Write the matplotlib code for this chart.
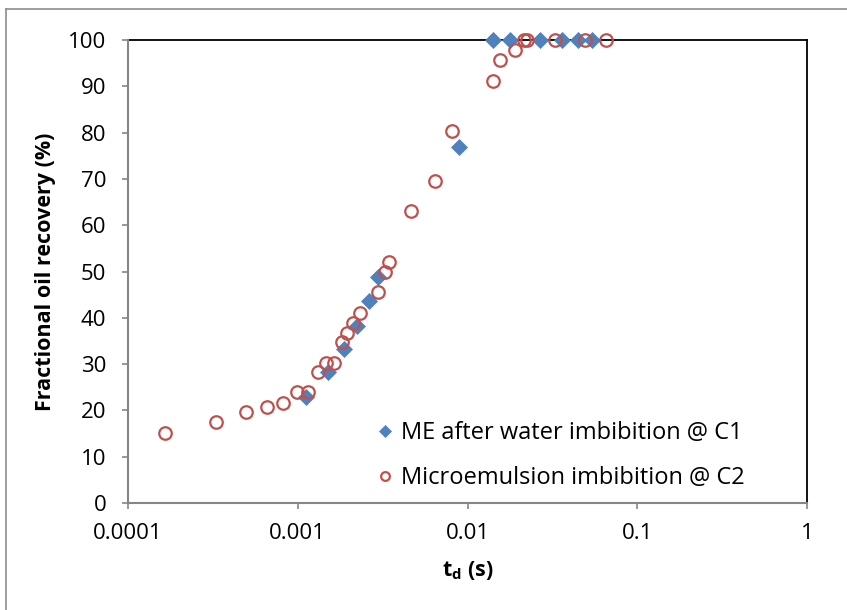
import matplotlib
matplotlib.use("Agg")
import matplotlib.pyplot as plt
from matplotlib.lines import Line2D

plt.rcParams['font.family'] = ['Open Sans', 'DejaVu Sans']
plt.rcParams['mathtext.fontset'] = 'custom'
plt.rcParams['mathtext.bf'] = 'Open Sans:bold'
plt.rcParams['mathtext.rm'] = 'Open Sans'

# ME after water imbibition @ C1
me_td = [1.12e-3, 1.51e-3, 1.87e-3, 2.23e-3, 2.63e-3, 2.97e-3, 8.91e-3,
         1.41e-2, 1.78e-2, 2.67e-2, 3.60e-2, 4.48e-2, 5.41e-2]
me_rec = [22.9, 28.3, 33.3, 38.2, 43.6, 48.8, 76.9,
          100, 100, 100, 100, 100, 100]

# Microemulsion imbibition @ C2
mi_td = [1.65e-4, 3.30e-4, 4.96e-4, 6.59e-4, 8.18e-4, 9.9e-4, 1.15e-3,
         1.32e-3, 1.47e-3, 1.64e-3, 1.82e-3, 1.95e-3, 2.11e-3, 2.33e-3,
         2.97e-3, 3.27e-3, 3.45e-3, 4.65e-3, 6.44e-3, 8.11e-3, 1.41e-2,
         1.55e-2, 1.90e-2, 2.15e-2, 2.25e-2, 3.27e-2, 4.92e-2, 6.55e-2]
mi_rec = [15.2, 17.4, 19.6, 20.8, 21.7, 23.9, 23.9,
          28.3, 30.3, 30.3, 34.7, 36.8, 38.9, 41.1,
          45.6, 49.9, 52.1, 63.0, 69.5, 80.3, 91.2,
          95.6, 97.8, 100, 100, 100, 100, 100]

x_ticks = [0.0001, 0.001, 0.01, 0.1, 1]
x_tick_labels = ['0.0001', '0.001', '0.01', '0.1', '1']
y_ticks = list(range(0, 101, 10))

blue = '#4F81BD'
red = '#C0504D'
axis_gray = '#868686'

fig = plt.figure(figsize=(8.47, 6.10), dpi=100)
ax = fig.add_axes([128 / 847, 1 - 503 / 610, (807 - 128) / 847, (503 - 40) / 610])

ax.plot(me_td, me_rec, linestyle='none', marker='D', markersize=8.5,
        color=blue, markeredgecolor=blue, markeredgewidth=0.5,
        label='ME after water imbibition @ C1', zorder=3, clip_on=False)
ax.plot(mi_td, mi_rec, linestyle='none', marker='o', markersize=9,
        markerfacecolor='none', markeredgecolor=red, markeredgewidth=1.6,
        label='Microemulsion imbibition @ C2', zorder=4, clip_on=False)

ax.set_xscale('log')
ax.set_xlim(0.0001, 1)
ax.set_ylim(0, 100)
ax.set_xticks(x_ticks)
ax.set_xticklabels(x_tick_labels)
ax.xaxis.set_minor_locator(matplotlib.ticker.NullLocator())
ax.set_yticks(y_ticks)

for side in ('top', 'right'):
    ax.spines[side].set_color('black')
    ax.spines[side].set_linewidth(1.3)
for side in ('left', 'bottom'):
    ax.spines[side].set_color(axis_gray)
    ax.spines[side].set_linewidth(1.5)
    ax.spines[side].set_zorder(5)

ax.tick_params(axis='both', direction='out', length=4.5, width=1.2,
               color=axis_gray, labelsize=16, labelcolor='black')
ax.tick_params(axis='x', pad=10)
ax.tick_params(axis='y', pad=11)

ax.set_xlabel(r'$\mathbf{t_d}$ (s)', fontsize=15.5, fontweight='bold', labelpad=11)
ax.set_ylabel('Fractional oil recovery (%)', fontsize=15.5, fontweight='bold', labelpad=9)

leg = ax.legend(loc='upper left', bbox_to_anchor=(374 / 847, 1 - 421 / 610),
                bbox_transform=fig.transFigure, frameon=False, fontsize=17,
                handletextpad=0.25, handlelength=0.9, labelspacing=0.88,
                markerscale=0.7, borderaxespad=0, borderpad=0)

# outer frame around the chart area
fig.add_artist(Line2D([6 / 847, 6 / 847], [0, 1 - 9 / 610],
                      transform=fig.transFigure, color='#8c8c8c', linewidth=1.2))
fig.add_artist(Line2D([6 / 847, 1], [1 - 9 / 610, 1 - 9 / 610],
                      transform=fig.transFigure, color='#8c8c8c', linewidth=1.2))

fig.savefig('out.png', dpi=100)
